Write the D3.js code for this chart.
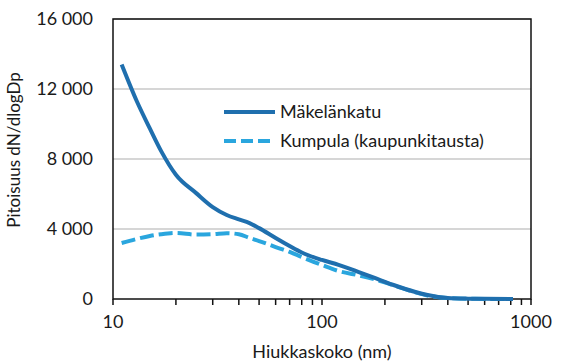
<!DOCTYPE html>
<html>
<head>
<meta charset="utf-8">
<script src="https://cdn.jsdelivr.net/npm/d3@7"></script>
<style>
  body { margin: 0; background: #fff; }
  text { font-family: Lato, "Open Sans", sans-serif; fill: #1a1a1a; }
</style>
</head>
<body>
<div id="chart"></div>
<script>
// particle diameters (nm) and concentrations
var sizes = [11, 13, 15, 17, 20, 25, 30, 35, 40, 45, 50, 60, 70, 80, 100, 120, 150, 190, 220, 280, 320, 400, 500, 600, 820];
var makelankatu = [13400, 11300, 9750, 8450, 7100, 6050, 5250, 4800, 4550, 4340, 4050, 3490, 3030, 2660, 2230, 1950, 1540, 1085, 800, 400, 230, 60, 20, 10, 0];
var kumpula = [3200, 3430, 3600, 3700, 3770, 3680, 3700, 3760, 3700, 3490, 3310, 2970, 2690, 2400, 1940, 1600, 1350, 1030, 780, 380, 200, 50, 15, 5, 0];
var seriesNames = ["Mäkelänkatu", "Kumpula (kaupunkitausta)"];
var yTicks = [0, 4000, 8000, 12000, 16000];
var xTicks = [10, 100, 1000];

var W = 562, H = 362;
var margin = {top: 19, right: 31, bottom: 63, left: 113},
    width = W - margin.left - margin.right,
    height = H - margin.top - margin.bottom;

var svg = d3.select("#chart").append("svg")
    .attr("width", W)
    .attr("height", H);

var g = svg.append("g")
    .attr("transform", "translate(" + margin.left + "," + margin.top + ")");

var x = d3.scaleLog().domain([10, 1000]).range([0, width]);
var y = d3.scaleLinear().domain([0, 16000]).range([height, 0]);

var fmt = function(d) { return d3.format(",")(d).replace(",", " "); };

// gridlines
g.selectAll(".grid")
  .data(yTicks.slice(1))
  .enter().append("line")
    .attr("x1", 0).attr("x2", width)
    .attr("y1", function(d) { return y(d); })
    .attr("y2", function(d) { return y(d); })
    .attr("stroke", "#c8c8c8")
    .attr("stroke-width", 1.3);

// frame
g.append("rect")
  .attr("width", width).attr("height", height)
  .attr("fill", "none")
  .attr("stroke", "#111")
  .attr("stroke-width", 1.5);

// y axis labels
g.selectAll(".ylab")
  .data(yTicks)
  .enter().append("text")
    .attr("x", -20)
    .attr("y", function(d) { return y(d); })
    .attr("dy", "0.35em")
    .attr("text-anchor", "end")
    .style("font-size", "18px")
    .text(fmt);

// x axis with log minor ticks
var allTicks = x.ticks();
g.selectAll(".xtick")
  .data(allTicks)
  .enter().append("line")
    .attr("x1", function(d) { return x(d); })
    .attr("x2", function(d) { return x(d); })
    .attr("y1", height).attr("y2", height + 6)
    .attr("stroke", "#111")
    .attr("stroke-width", 1.5);

g.selectAll(".xlab")
  .data(xTicks)
  .enter().append("text")
    .attr("x", function(d) { return x(d); })
    .attr("y", height + 29)
    .attr("text-anchor", "middle")
    .style("font-size", "18px")
    .text(function(d) { return d; });

// axis titles
g.append("text")
  .attr("x", width / 2)
  .attr("y", height + 59)
  .attr("text-anchor", "middle")
  .style("font-size", "18px")
  .text("Hiukkaskoko (nm)");

svg.append("text")
  .attr("transform", "translate(20,150) rotate(-90)")
  .attr("text-anchor", "middle")
  .style("font-size", "17px")
  .text("Pitoisuus dN/dlogDp");

// lines
var line = d3.line()
  .x(function(d) { return x(d[0]); })
  .y(function(d) { return y(d[1]); })
  .curve(d3.curveMonotoneX);

var series = [
  {name: seriesNames[0], values: makelankatu, color: "#1f6fae", dash: null},
  {name: seriesNames[1], values: kumpula, color: "#2aa6de", dash: "14,5"}
];

series.slice().reverse().forEach(function(s) {
  g.append("path")
    .datum(sizes.map(function(d, i) { return [d, s.values[i]]; }))
    .attr("d", line)
    .attr("fill", "none")
    .attr("stroke", s.color)
    .attr("stroke-width", 4)
    .attr("stroke-dasharray", s.dash);
});

// legend
var legend = svg.append("g").attr("transform", "translate(224,112)");
series.forEach(function(s, i) {
  var row = legend.append("g").attr("transform", "translate(0," + i * 29 + ")");
  row.append("line")
    .attr("x1", 0).attr("x2", 51)
    .attr("stroke", s.color)
    .attr("stroke-width", 4)
    .attr("stroke-dasharray", s.dash ? "12,5" : null);
  row.append("text")
    .attr("x", 56)
    .attr("dy", "0.35em")
    .style("font-size", "18px")
    .text(s.name);
});
</script>
</body>
</html>
